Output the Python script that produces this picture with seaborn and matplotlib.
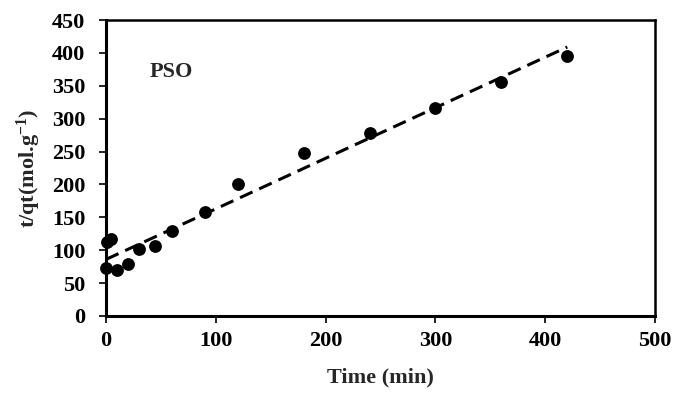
import numpy as np
import pandas as pd
import matplotlib
matplotlib.use("Agg")
import matplotlib.pyplot as plt
import seaborn as sns

# DATA

time_min = [0, 1, 5, 10, 20, 30, 45, 60, 90, 120, 180, 240, 300, 360, 420]
t_qt = [73, 112, 117, 70, 79, 102, 106, 129, 158, 200, 248, 278, 316, 356, 395]

# PSO linear fit, end points
fit_time = [0, 420]
fit_tqt = [86, 409]

x_ticks = [0, 100, 200, 300, 400, 500]
y_ticks = [0, 50, 100, 150, 200, 250, 300, 350, 400, 450]

df = pd.DataFrame({"Time (min)": time_min, "t/qt": t_qt})
df_fit = pd.DataFrame({"Time (min)": fit_time, "t/qt": fit_tqt})

sns.set_style("white")
plt.rcParams['font.family'] = ['Liberation Serif', 'DejaVu Serif']
plt.rcParams['font.weight'] = 'bold'
plt.rcParams['mathtext.fontset'] = 'custom'
plt.rcParams['mathtext.rm'] = 'Liberation Serif:bold'
plt.rcParams['mathtext.bf'] = 'Liberation Serif:bold'
plt.rcParams['mathtext.default'] = 'bf'

fig = plt.figure(figsize=(6.73, 3.93), dpi=100)
ax = fig.add_axes([0.1575, 0.196, 0.816, 0.753])

sns.lineplot(data=df_fit, x="Time (min)", y="t/qt", ax=ax,
             color="black", linewidth=2.2, dashes=False, zorder=2)
ax.lines[-1].set_dashes([4.5, 2.4])
sns.scatterplot(data=df, x="Time (min)", y="t/qt", ax=ax,
                color="black", s=85, edgecolor="black", linewidth=0, zorder=3)
# markers on the y axis are drawn whole in the original
for coll in ax.collections:
    coll.set_clip_on(False)

ax.set_xlim(0, 500)
ax.set_ylim(0, 450)
ax.set_xticks(x_ticks)
ax.set_yticks(y_ticks)

ax.tick_params(axis='both', which='major', direction='out', length=5, width=1.2,
               colors='black', labelsize=16, left=True, bottom=True)
ax.tick_params(axis='x', pad=6)
ax.tick_params(axis='y', pad=10)
for lab in ax.get_xticklabels() + ax.get_yticklabels():
    lab.set_fontweight('bold')

for name, spine in ax.spines.items():
    spine.set_visible(True)
    spine.set_color('black')
    spine.set_linewidth(2.2 if name in ('left', 'bottom') else 1.8)

ax.set_xlabel("Time (min)", fontsize=16, fontweight='bold', labelpad=12)
ax.set_ylabel(r"t/qt(mol.g$^{-1}$)", fontsize=16, fontweight='bold', labelpad=6)

ax.text(40, 371, "PSO", fontsize=16, fontweight='bold', ha='left', va='center')
ax.grid(False)

plt.savefig("out.png", dpi=100)
